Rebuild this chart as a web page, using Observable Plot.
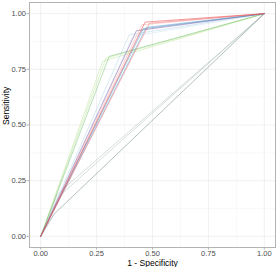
<!DOCTYPE html>
<html>
<head>
<meta charset="utf-8">
<script src="https://cdn.jsdelivr.net/npm/d3@7"></script>
<script src="https://cdn.jsdelivr.net/npm/@observablehq/plot@0.6"></script>
<style>
  html, body { margin: 0; padding: 0; background: #fff; }
  svg { display: block; }
</style>
</head>
<body>
<div id="chart"></div>
<script>
// Models (one ROC curve each: (0,0) -> knee -> (1,1))
const models = ["G1","G2","G3","GL1","GL2","GD","LB1","LB2","PU","BL1","BL2","PK","RD1","RD2"];
const fpr = [0.075, 0.080, 0.060, 0.277, 0.292, 0.306, 0.396, 0.412, 0.428, 0.458, 0.472, 0.452, 0.467, 0.487];
const tpr = [0.190, 0.178, 0.100, 0.786, 0.800, 0.808, 0.905, 0.898, 0.923, 0.932, 0.938, 0.950, 0.962, 0.957];
const colors = ["#9fb3ae","#9fb3ae","#4f6f6c","#b2df8a","#b2df8a","#5cb85c","#a6cee3","#c6dcee","#6a3d9a","#1f78b4","#4a8fc8","#fb9a99","#e31a1c","#f0595a"];
const xTicks = [0, 0.25, 0.5, 0.75, 1];
const yTicks = [0, 0.25, 0.5, 0.75, 1];
const xTickLabels = ["0.00","0.25","0.50","0.75","1.00"];
const yTickLabels = ["0.00","0.25","0.50","0.75","1.00"];
const minorTicks = [0.125, 0.375, 0.625, 0.875];
const xTitle = "1 - Specificity";
const yTitle = "Sensitivity";

const rows = models.flatMap((m, i) => [
  {m, x: 0, y: 0, c: colors[i]},
  {m, x: fpr[i], y: tpr[i], c: colors[i]},
  {m, x: 1, y: 1, c: colors[i]}
]);

const font = "'Liberation Sans', Arial, sans-serif";

const chart = Plot.plot({
  width: 278,
  height: 267,
  marginLeft: 29,
  marginRight: 3,
  marginTop: 2,
  marginBottom: 20,
  style: {fontFamily: font, background: "#fff"},
  x: {domain: [-0.05, 1.05]},
  y: {domain: [-0.05, 1.05]},
  color: {type: "identity"},
  marks: [
    Plot.gridX(minorTicks, {stroke: "#f3f3f3", strokeOpacity: 1, strokeWidth: 0.5}),
    Plot.gridY(minorTicks, {stroke: "#f3f3f3", strokeOpacity: 1, strokeWidth: 0.5}),
    Plot.gridX(xTicks, {stroke: "#ebebeb", strokeOpacity: 1, strokeWidth: 0.7}),
    Plot.gridY(yTicks, {stroke: "#ebebeb", strokeOpacity: 1, strokeWidth: 0.7}),
    Plot.line(rows, {x: "x", y: "y", z: "m", stroke: "c", strokeWidth: 0.55, strokeOpacity: 0.8}),
    Plot.frame({stroke: "#b3b3b3", strokeWidth: 1}),
    Plot.axisX(xTicks, {tickSize: 2.5, tickPadding: 1, stroke: "#b3b3b3", fill: "#4d4d4d", fontSize: 7.5, fontWeight: "normal", tickFormat: (d, i) => xTickLabels[i], label: null}),
    Plot.axisY(yTicks, {tickSize: 2.5, tickPadding: 1, stroke: "#b3b3b3", fill: "#4d4d4d", fontSize: 7.5, fontWeight: "normal", tickFormat: (d, i) => yTickLabels[i], label: null}),
    Plot.text([xTitle], {frameAnchor: "bottom", dy: 15.5, fontSize: 8.5, fontWeight: "normal", fill: "#000", lineAnchor: "middle"}),
    Plot.text([yTitle], {frameAnchor: "left", dx: -23, rotate: -90, fontSize: 8.5, fontWeight: "normal", fill: "#000", lineAnchor: "middle"})
  ]
});
document.getElementById("chart").appendChild(chart);
</script>
</body>
</html>
